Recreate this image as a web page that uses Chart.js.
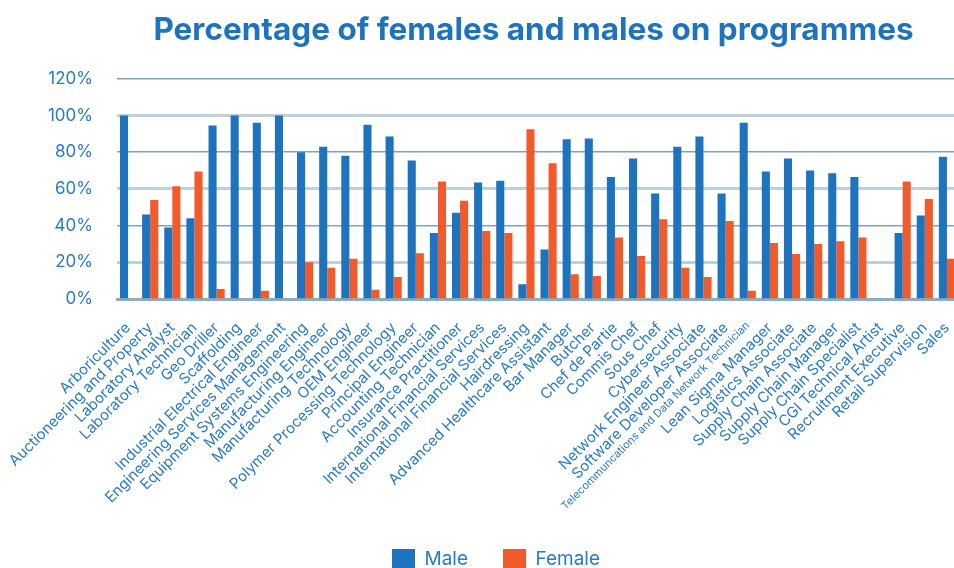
<!DOCTYPE html>
<html>
<head>
<meta charset="utf-8">
<script src="https://cdn.jsdelivr.net/npm/chart.js@4"></script>
<style>
  html, body { margin: 0; padding: 0; overflow: hidden; background: #fff; }
  #wrap { position: relative; width: 958px; height: 580px; }
</style>
</head>
<body>
<div id="wrap"><canvas id="grafico"></canvas></div>
<script>
// categorías y valores
const programmes = [
  "Arboriculture", "Auctioneering and Property", "Laboratory Analyst", "Laboratory Technician",
  "Geo Driller", "Scaffolding", "Industrial Electrical Engineer", "Engineering Services Management",
  "Equipment Systems Engineering", "Manufacturing Engineer", "Manufacturing Technology", "OEM Engineer",
  "Polymer Processing Technology", "Principal Engineer", "Accounting Technician", "Insurance Practitioner",
  "International Financial Services", "International Financial Services", "Hairdressing",
  "Advanced Healthcare Assistant", "Bar Manager", "Butcher", "Chef de Partie", "Commis Chef",
  "Sous Chef", "Cybersecurity", "Network Engineer Associate", "Software Developer Associate",
  "Telecommuncations and Data Network Technician", "Lean Sigma Manager", "Logistics Associate",
  "Supply Chain Associate", "Supply Chain Manager", "Supply Chain Specialist", "CGI Technical Artist",
  "Recruitment Executive", "Retail Supervision", "Sales"
];
const male = [100, 46, 39, 44, 94.5, 100, 96, 100, 80, 83, 78, 95, 88.5, 75.5, 36, 47, 63.5, 64.5, 8, 27,
  87, 87.5, 66.5, 76.5, 57.5, 83, 88.5, 57.5, 96, 69.5, 76.5, 70, 68.5, 66.5, 0, 36, 45.5, 77.5];
const female = [0, 54, 61.5, 69.5, 5.5, 0, 4.5, 0, 20, 17, 22, 5, 12, 25, 64, 53.5, 37, 36, 92.5, 74,
  13.5, 12.5, 33.5, 23.5, 43.5, 17, 12, 42.5, 4.5, 30.5, 24.5, 30, 31.5, 33.5, 0, 64, 54.5, 22];
const yTicks = [0, 20, 40, 60, 80, 100, 120];

const azul = "#1e73be";
const naranja = "#f15a2b";
const texto = "#2a7bc3";

// pequeños ajustes de posición del título y la leyenda
const ajustes = {
  id: "ajustes",
  afterLayout(chart) {
    chart.legend.left += 17;
    chart.legend.right += 17;
    chart.titleBlock.left -= 4;
    chart.titleBlock.right -= 4;
  },
};

new Chart(document.getElementById("grafico"), {
  type: "bar",
  data: {
    labels: programmes,
    datasets: [
      { label: "Male", data: male, backgroundColor: azul, categoryPercentage: 0.73, barPercentage: 1.0 },
      { label: "Female", data: female, backgroundColor: naranja, categoryPercentage: 0.73, barPercentage: 1.0 },
    ],
  },
  plugins: [ajustes],
  options: {
    responsive: true,
    maintainAspectRatio: false,
    animation: false,
    layout: { padding: { top: 12, left: 0, right: 0, bottom: 0 } },
    plugins: {
      title: {
        display: true,
        fullSize: false,
        text: "Percentage of females and males on programmes",
        color: azul,
        font: { family: "Inter", size: 31.5, weight: "bold" },
        padding: { top: 0, bottom: 29 },
      },
      legend: {
        position: "bottom",
        labels: {
          color: texto,
          font: { family: "Inter", size: 19 },
          boxWidth: 23,
          boxHeight: 21,
          padding: 35,
        },
      },
      tooltip: { enabled: false },
    },
    scales: {
      x: {
        grid: { display: false },
        border: { color: "#8eacc0", width: 3 },
        ticks: {
          autoSkip: false,
          maxRotation: 45,
          minRotation: 45,
          padding: 12,
          color: texto,
          font: (ctx) => ({ family: "Inter", size: ctx.index === 28 ? 11 : 15 }),
        },
        afterFit: (scale) => {
          scale.height = 215;
          scale.paddingRight = 0;
        },
      },
      y: {
        min: 0,
        max: 120,
        afterBuildTicks: (scale) => { scale.ticks = yTicks.map((v) => ({ value: v })); },
        border: { display: false },
        grid: {
          drawTicks: false,
          color: (ctx) => (ctx.index % 2 === 0 ? "#7fa3bb" : "#bcd1dd"),
          lineWidth: (ctx) => (ctx.index % 2 === 0 ? 1.5 : 3),
        },
        ticks: {
          padding: 24,
          color: texto,
          font: { family: "Inter", size: 17 },
          callback: (v) => v + "%",
        },
        afterFit: (scale) => { scale.width = 117; },
      },
    },
  },
});
</script>
</body>
</html>
